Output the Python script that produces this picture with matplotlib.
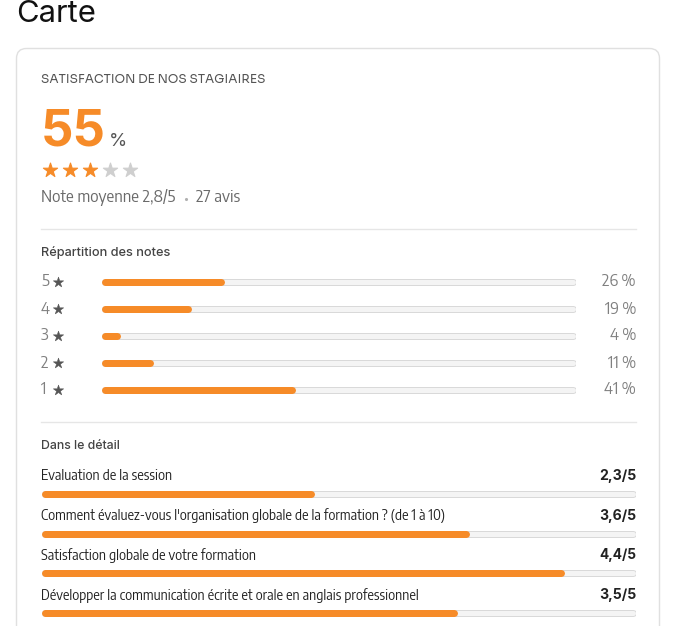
import matplotlib
matplotlib.use("Agg")
import matplotlib.pyplot as plt
from matplotlib.patches import FancyBboxPatch

W, H = 677, 626
plt.rcParams['font.family'] = ["Inter", "DejaVu Sans"]
LIGHT = ["Encode Sans Semi Condensed", "Manrope", "DejaVu Sans"]
WIDE = ["Sora", "Inter", "DejaVu Sans"]

ORANGE = "#F68B28"
TRACK_EDGE = "#d9d9d9"
TRACK_FILL = "#f4f4f4"

# ---- data ----
title = "Carte"
card_title = "SATISFACTION DE NOS STAGIAIRES"
satisfaction_pct = 55
mean_note = 2.8
n_reviews = 27
dist_stars = [5, 4, 3, 2, 1]
dist_pct = [26, 19, 4, 11, 41]
detail_labels = [
    "Evaluation de la session",
    "Comment évaluez-vous l'organisation globale de la formation ? (de 1 à 10)",
    "Satisfaction globale de votre formation",
    "Développer la communication écrite et orale en anglais professionnel",
]
detail_scores = [2.3, 3.6, 4.4, 3.5]
max_score = 5

fig = plt.figure(figsize=(W / 100, H / 100), dpi=100)
fig.patch.set_facecolor("white")
ax = fig.add_axes([0, 0, 1, 1])
ax.set_xlim(0, W)
ax.set_ylim(H, 0)
ax.axis("off")
R = fig.canvas.get_renderer()


def fit(x, y, s, target_w, **kw):
    t = ax.text(x, y, s, fontsize=10, **kw)
    w = t.get_window_extent(R).width
    t.set_fontsize(10 * target_w / w)
    return t


def px_axes(x0, y0, x1, y1):
    a = fig.add_axes([x0 / W, 1 - y1 / H, (x1 - x0) / W, (y1 - y0) / H])
    a.axis("off")
    return a


def px2pt(p):
    return p * 72 / 100


def draw_bar(a, value, vmax, width_px, h_px):
    a.set_xlim(0, vmax)
    a.set_ylim(-1, 1)
    c = vmax * (h_px / 2) / width_px
    a.hlines(0, c, vmax - c, color=TRACK_EDGE, lw=px2pt(h_px), capstyle="round")
    a.hlines(0, c, vmax - c, color=TRACK_FILL, lw=px2pt(h_px - 2), capstyle="round")
    if value > 0:
        a.hlines(0, c, max(value - c, c), color=ORANGE, lw=px2pt(h_px), capstyle="round")


# title
fit(16, 22, title, 80, color="#111111", va="baseline", ha="left")

# card
card = FancyBboxPatch((16.5, 48.5), 643, 640, boxstyle="round,pad=0,rounding_size=10",
                      fc="white", ec="#e0e0e0", lw=1)
ax.add_patch(card)

fit(41, 80, card_title, 226, family=WIDE, color="#555555", va="center", ha="left")

fit(41, 146, f"{satisfaction_pct}", 65, color=ORANGE, fontweight="bold",
    va="baseline", ha="left")
fit(109, 146, "%", 18, color="#555555", va="baseline", ha="left")

# stars
full = round(mean_note)
for i in range(5):
    col = ORANGE if i < full else "#cfcfcf"
    ax.scatter(50 + 20 * i, 170, marker="*", s=115, linewidths=0.8,
               edgecolors=col, color=col, zorder=3)

t_note = fit(41, 198, f"Note moyenne {mean_note:.1f}/5".replace(".", ","), 135,
             family=LIGHT, color="#6a6a6a", va="center", ha="left")
fs_light = t_note.get_fontsize()
ax.scatter(186, 199, s=5, color="#b0b0b0", linewidths=0)
ax.text(196, 198, f"{n_reviews} avis", fontsize=fs_light, family=LIGHT, color="#6a6a6a",
        va="center", ha="left")

ax.plot([41, 636], [228.5, 228.5], color="#e6e6e6", lw=1)
fit(41, 253, "Répartition des notes", 129, color="#444444", va="center",
    ha="left", fontweight="medium")

for i, (s, p) in enumerate(zip(dist_stars, dist_pct)):
    y = 282 + 27 * i
    ax.text(41, y, f"{s}", fontsize=fs_light, family=LIGHT, color="#808080",
            va="center", ha="left")
    ax.scatter(58, y, marker="*", s=60, linewidths=0.4, edgecolors="#555555",
               color="#555555")
    ba = px_axes(101, y - 6, 576, y + 6)
    draw_bar(ba, p, 100, 475, 7)
    ax.text(636, y, f"{p}\u2009%", fontsize=fs_light, family=LIGHT, color="#808080",
            va="center", ha="right")

ax.plot([41, 636], [421.5, 421.5], color="#e6e6e6", lw=1)
fit(41, 446, "Dans le détail", 79, color="#444444", va="center",
    ha="left", fontweight="medium")

# common size for detail labels, fitted on the longest label
longest = max(detail_labels, key=len)
probe = fit(0, -100, longest, 405, family=LIGHT)
fs_detail = probe.get_fontsize()
probe.remove()

for i, (lab, sc) in enumerate(zip(detail_labels, detail_scores)):
    yt = 476 + 39.7 * i
    yb = yt + 18
    ax.text(41, yt, lab, fontsize=fs_detail, family=LIGHT, color="#222222",
            va="center", ha="left")
    fit(636, yt, f"{sc:.1f}/{max_score}".replace(".", ","), 37,
        color="#222222", va="center", ha="right", fontweight="bold")
    ba = px_axes(41, yb - 6, 636, yb + 6)
    draw_bar(ba, sc, max_score, 595, 7)

fig.savefig("out.png", dpi=100, facecolor="white")
